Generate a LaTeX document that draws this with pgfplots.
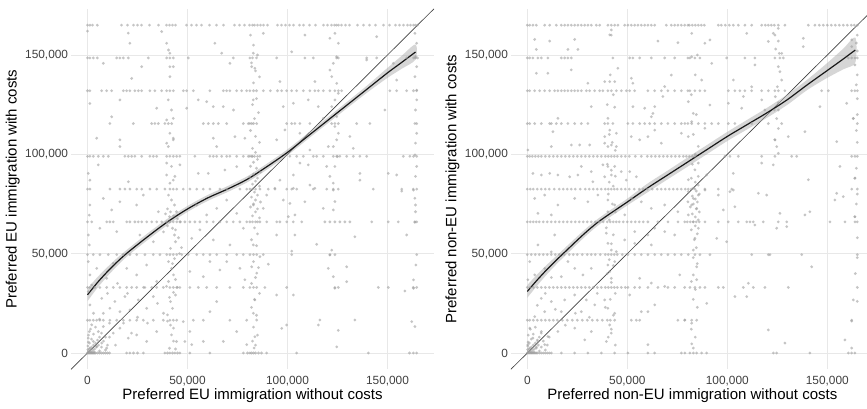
\documentclass[border=0pt]{standalone}
\usepackage{pgfplots}
\pgfplotsset{compat=1.18}
\usepackage{fontspec}
\setmainfont{Liberation Sans}
\pgfplotsset{
 panel/.style={
  scale only axis, width=272.25pt, height=270.45pt,
  xmin=-8.25, xmax=173.25, ymin=-8.25, ymax=173.25,
  axis line style={draw=none},
  major tick length=0pt,
  xtick={0,50,100,150}, ytick={0,50,100,150},
  xticklabels={0,{50,000},{100,000},{150,000}},
  yticklabels={0,{50,000},{100,000},{150,000}},
  grid=major, major grid style={draw=black!9, line width=0.5pt},
  ticklabel style={font=\fontsize{8.9}{10}\selectfont, text=black!75, inner sep=0pt},
  xticklabel shift=4.7pt, yticklabel shift=2pt,
  label style={font=\fontsize{11.25}{13}\selectfont, inner sep=0pt},
  xlabel style={at={(axis description cs:0.5,0)}, anchor=base, yshift=-22.95pt},
  ylabel style={at={(axis description cs:-0.15,0.5)}, anchor=base},
  /pgf/number format/assume math mode=true,
 },
 pts/.style={only marks, mark=*, mark size=1.15pt, color=black!38, mark options={draw opacity=0, line width=0pt, fill=black!38, fill opacity=0.6}},
 band/.style={fill=black!32, fill opacity=0.5, draw=none, smooth},
 fit/.style={black!90, line width=0.9pt, smooth},
 diag/.style={black!75, line width=0.5pt},
}
\begin{document}
\begin{tikzpicture}
\useasboundingbox (0pt,0pt) rectangle (650.25pt,306.75pt);
\clip (0pt,0pt) rectangle (650.25pt,306.75pt);
% ---------------- LEFT PANEL ----------------
\begin{axis}[panel, at={(53.25pt,29.7pt)}, anchor=south west,
  xlabel={Preferred EU immigration without costs},
  ylabel={Preferred EU immigration with costs}]
% rows
\addplot[pts] coordinates {(0,165)(1.2,165)(2.5,165)(4.9,165)(17,165)(20,165)(23,165)(25,165)(27,165)(31,165)(35.5,165)(39.5,165)(41,165)(42.5,165)(44,165)(49.5,165)(52,165)(54.5,165)(57,165)(61,165)(64.5,165)(68,165)(73.5,165)(76,165)(78.5,165)(81,165)(82.5,165)(83.5,165)(85,165)(86.5,165)(88,165)(90,165)(95,165)(97,165)(99,165)(101,165)(103,165)(106,165)(108,165)(111,165)(114,165)(118,165)(120,165)(122,165)(123.5,165)(124.5,165)(125.5,165)(127,165)(129,165)(131,165)(135,165)(138,165)(141,165)(144,165)(148,165)(151,165)(154,165)(156,165)(158,165)(160,165)(161.5,165)(163,165)(164,165)(165,165)};
\addplot[pts] coordinates {(0,148.5)(1.2,148.5)(2.9,148.5)(4.9,148.5)(14.6,148.5)(16.2,148.5)(17.9,148.5)(20.4,148.5)(30.4,148.5)(39.6,148.5)(41.2,148.5)(42.9,148.5)(50.4,148.5)(72.9,148.5)(81.2,148.5)(82.5,148.5)(84.5,148.5)(94.6,148.5)(108.7,148.5)(112.9,148.5)(124.6,148.5)(125.4,148.5)(139.6,148.5)(144.6,148.5)(159.6,148.5)(163,148.5)(164,148.5)(165,148.5)};
\addplot[pts] coordinates {(0,132)(1.2,132)(7.1,132)(9.6,132)(12.1,132)(17.9,132)(19.6,132)(21.2,132)(23.7,132)(25.4,132)(27.1,132)(31.2,132)(33.7,132)(37.1,132)(39.6,132)(41.2,132)(42.9,132)(47.9,132)(49.6,132)(52.9,132)(61.2,132)(67.9,132)(69.6,132)(71.2,132)(74.6,132)(77.1,132)(79.6,132)(81.2,132)(83,132)(84.5,132)(87.9,132)(91.4,132)(95,132)(97.1,132)(99.6,132)(102.1,132)(104.6,132)(107.9,132)(111.2,132)(113.7,132)(115.4,132)(117.9,132)(121.2,132)(123.7,132)(125.4,132)(127.1,132)(151.2,132)(154.6,132)(159.6,132)(163,132)(164.6,132)};
\addplot[pts] coordinates {(11.2,115.5)(22.9,115.5)(32.1,115.5)(33.7,115.5)(35.4,115.5)(38.7,115.5)(40.4,115.5)(42.1,115.5)(57.9,115.5)(60.4,115.5)(62.9,115.5)(65.4,115.5)(69.6,115.5)(77.9,115.5)(80.4,115.5)(81.2,115.5)(82.1,115.5)(83,115.5)(84.6,115.5)(99.6,115.5)(102.1,115.5)(106.2,115.5)(111.2,115.5)(122.1,115.5)(123.7,115.5)(125.4,115.5)(141.2,115.5)(164.6,115.5)};
\addplot[pts] coordinates {(0,99)(1.2,99)(2.9,99)(5.4,99)(7.9,99)(10.4,99)(18.7,99)(20.4,99)(22.1,99)(23.7,99)(27.1,99)(31.2,99)(32.9,99)(34.6,99)(39.6,99)(41.2,99)(42.9,99)(44.6,99)(46.2,99)(53.7,99)(61.2,99)(62.9,99)(64.6,99)(67.1,99)(69.6,99)(71.2,99)(74.6,99)(77.9,99)(80.4,99)(81.2,99)(82.1,99)(82.5,99)(83.5,99)(85,99)(86.2,99)(101.2,99)(104.6,99)(107.9,99)(112.9,99)(114.6,99)(117.9,99)(122.9,99)(124.6,99)(126.2,99)(129.6,99)(132.9,99)(136.2,99)(139.6,99)(157.9,99)(161.2,99)(163,99)(164.6,99)};
\addplot[pts] coordinates {(0,82.5)(1.2,82.5)(11.2,82.5)(16.2,82.5)(18.7,82.5)(21.2,82.5)(24.6,82.5)(27.1,82.5)(31.2,82.5)(34.6,82.5)(38.7,82.5)(41.2,82.5)(42.9,82.5)(44.6,82.5)(47.9,82.5)(51.2,82.5)(54.6,82.5)(57.9,82.5)(61.2,82.5)(66.2,82.5)(69.6,82.5)(76.2,82.5)(79.6,82.5)(81.2,82.5)(82.5,82.5)(84,82.5)(86.2,82.5)(90.4,82.5)(93.7,82.5)(99.6,82.5)(102.1,82.5)(104.6,82.5)(112.9,82.5)(119.6,82.5)(122.9,82.5)(125.4,82.5)(142.9,82.5)(157.1,82.5)(162.9,82.5)(164.6,82.5)};
\addplot[pts] coordinates {(0,66)(2.1,66)(9.6,66)(11.2,66)(12.9,66)(19.6,66)(21.2,66)(23.7,66)(25.4,66)(27.1,66)(29.6,66)(32.1,66)(34.6,66)(37.1,66)(39.6,66)(41.2,66)(42.9,66)(44.6,66)(46.2,66)(48.7,66)(51.2,66)(53.7,66)(56.2,66)(59.6,66)(62.9,66)(66.2,66)(69.6,66)(72.9,66)(76.2,66)(79.6,66)(81.2,66)(82.5,66)(84,66)(85,66)(86.2,66)(89.6,66)(94.6,66)(96.2,66)(99.6,66)(102.9,66)(107.1,66)(118.7,66)(121.2,66)(123.7,66)(126.2,66)(128.7,66)(131.2,66)(142.1,66)(150.4,66)(155.4,66)(163.7,66)(164.6,66)};
\addplot[pts] coordinates {(0,49.5)(2.9,49.5)(6.2,49.5)(10.4,49.5)(14.6,49.5)(17.9,49.5)(21.2,49.5)(24.6,49.5)(28.7,49.5)(32.9,49.5)(36.2,49.5)(39.6,49.5)(41.2,49.5)(42.9,49.5)(44.6,49.5)(47.1,49.5)(50.4,49.5)(54.6,49.5)(57.9,49.5)(61.2,49.5)(64.6,49.5)(69.6,49.5)(74.6,49.5)(77.9,49.5)(81.2,49.5)(83,49.5)(84.6,49.5)(87.9,49.5)(102.1,49.5)(121.2,49.5)(123.7,49.5)(164.6,49.5)};
\addplot[pts] coordinates {(0,33)(1.2,33)(3.7,33)(6.2,33)(9.6,33)(12.9,33)(16.2,33)(19.6,33)(22.1,33)(24.6,33)(28.7,33)(32.1,33)(34.6,33)(37.9,33)(41.2,33)(42.9,33)(44.6,33)(46.2,33)(51.2,33)(55.4,33)(59.6,33)(64.6,33)(71.2,33)(77.9,33)(81.2,33)(83,33)(84.6,33)(88.7,33)(99.6,33)(123.7,33)(125.4,33)(145.4,33)(150.4,33)(162.9,33)(164.6,33)};
\addplot[pts] coordinates {(0,16.5)(1.2,16.5)(2.9,16.5)(4.6,16.5)(6.2,16.5)(7.9,16.5)(11.2,16.5)(14.6,16.5)(17.9,16.5)(21.2,16.5)(24.6,16.5)(27.9,16.5)(32.9,16.5)(37.9,16.5)(41.2,16.5)(42.9,16.5)(44.6,16.5)(52.9,16.5)(57.9,16.5)(71.2,16.5)(79.6,16.5)};
\addplot[pts] coordinates {(0,0)(0.5,0)(1,0)(1.5,0)(2,0)(2.5,0)(3,0)(3.5,0)(4,0)(5,0)(6,0)(7,0)(8,0)(9,0)(10,0)(11,0)(19.6,0)(21.2,0)(23,0)(25,0)(27.9,0)(38.7,0)(40,0)(41.2,0)(42.5,0)(43.7,0)(45,0)(46.2,0)(51.2,0)(61.2,0)(77.9,0)(80,0)(81.2,0)(82,0)(83,0)(84,0)(85.5,0)(87,0)(89.6,0)(104.6,0)(140.4,0)(161,0)(162.9,0)(164.6,0)};
% origin cluster
\addplot[pts] coordinates {(0.5,1)(1,2)(1.5,0.8)(2,3)(2.5,1.5)(3,4)(3.5,2)(4,5)(4.5,3)(5,6.5)(5.5,4)(6,1)(1,5)(2,7)(0.5,9)(3,9.5)(6,8)(7,3)(8,6)(9,1.5)(1.5,12)(4,13)(7,10)(10,4)(11,8)(0.3,0.3)(1.2,0.4)(2.2,0.2)(3.2,0.6)(0.2,1.8)(0.2,3.5)(0.4,5.5)(10,30)(15,35)(20,30)(18,15)(25,18)(30,15)(35,25)(38,20)(28,33)(22,10)(14,4)(6,17)(3,20)(9,8)(11,15)};
% columns
\addplot[pts] coordinates {(40.5,79.5)(42,77)(43.5,74.5)(44.5,71.1)(41,68.6)(42.5,62.8)(43.5,59.4)(44,56)(41.5,52.7)(40.5,46)(42,42.6)(43,39.3)(44,29.2)(41.5,25.9)(42.5,22.5)(40,19.2)(43,12.5)(42,9.1)(44.5,5.8)(41,2.4)(39.6,155.9)(40.5,152.5)(41.2,150.9)(42.9,144.1)(41.2,139.1)(40.4,127.4)(42,122.3)(39.6,117.3)(41.2,110.6)(42.9,107.3)(40.4,103.9)(42,93.9)(43.7,88.9)(41.2,85.5)(39,70)(40,72.5)(41.5,71)(43,69)(45,67.5)(46.5,66)(40,64)(38,61)(44,62)(45.5,58)(47,53)(46,50)(43.5,47.5)(42.5,45)(44,37)(45,33)(43,30.5)(41,28)(40,16)(41.5,14)(43,6)(44,2)(40.5,36)(39.5,33.5)};
\addplot[pts] coordinates {(81.5,160)(83,155)(85,150)(82,146)(84,142)(86,139)(83,136)(84.5,128)(82.5,125)(85.5,121)(83.5,118)(81.5,112)(84,109)(86,106)(82.5,103)(84,101)(85,97.5)(83,96)(81.5,94)(84.5,93)(86.5,91)(83,90)(81,88.5)(85,88)(84,86.5)(82.5,85)(86,84)(83.5,81)(85,79.5)(82,78.5)(84,77)(86.5,76)(83,75)(81.5,73.5)(85,72.5)(84,71)(82.5,69)(86,68)(83.5,63)(85,60)(82,57)(84.5,54)(83,46)(85.5,43)(84,38)(82,35)(86,30)(83.5,27)(82,23)(84.5,19)(83,13)(85,9)(82.5,6)(84,4)};
\addplot[pts] coordinates {(123.7,160.9)(125.4,155.9)(124.6,149.1)(122.9,145.8)(121.2,142.4)(122.1,139.1)(124.6,135.7)(125.4,130.7)(123.7,127.4)(122.1,124)(124.6,119)(123.7,114)(125.4,110.6)(124.6,107.3)(122.9,103.9)(125,98.9)(123.7,93.9)(121.2,88.9)(122.9,85.5)(123.7,76.2)(122.9,72)(122.1,51.8)(121.2,49.3)(120.4,42.6)(122.9,38.4)(129.6,43.4)(129.6,35.9)(123.7,32.6)(116.2,16.6)(115.4,14.1)(125.4,11.4)(124.6,3.1)};
\addplot[pts] coordinates {(163.7,160.9)(164.6,155.9)(164,149.1)(164.6,144.1)(163.7,139.1)(164.6,132.3)(164.6,127.4)(164,122.3)(163.7,115.5)(164.6,110.6)(164,105.6)(163.7,99.7)(164.6,93.9)(164,88.9)(163,82)(163.7,77.9)(164,74.5)(164,71.1)(163.7,65.8)(159.6,59.4)(164.2,44.3)(163,36.8)(163,32.6)(158.7,31.2)(162.1,15.8)(163.7,13.3)};
% scattered
\addplot[pts] coordinates {(0,162)(20.4,161)(37.1,161.8)(21.2,155.9)(63.7,155.9)(67.1,150.9)(7.9,145.8)(27.1,144.1)(41.2,144.1)(71.2,145.8)(22.1,138.2)(82.1,144.1)(1.2,125.6)(16.2,127.4)(55.4,127.4)(59.6,126.5)(34.6,123.2)(49.6,123.2)(62.9,124)(67.9,124)(73,122.3)(12.1,118.9)(42.9,118.1)(4.6,108.1)(16.2,107.3)(16.2,103.9)(39.6,105.6)(42.9,108.1)(62.9,108.1)(73.7,108.9)(78.7,108.1)(64.6,103.9)(5.4,94.7)(39.6,95.6)(46.2,94.7)(55.4,90.4)(60.4,90.4)(68.7,92.1)(74.6,93.8)(0.4,90.4)(1.2,87)(20.4,86.2)(39.6,89.6)(42.9,87)};
\addplot[pts] coordinates {(87.9,160.9)(108.7,160)(82.9,150.9)(102.1,151.6)(121.2,158.4)(144.6,159.2)(139.6,147.5)(152.9,145.8)(83.7,143.3)(154.6,137.4)(113.7,136.6)(96.2,136.6)(82.9,127.4)(97.9,124)(110.4,127.4)(115.4,124)(102.9,125.7)(148.7,122.3)(117.9,118.1)(103.7,115.5)(134.6,115.5)(98.7,112.3)(106.2,110.6)(94.6,107.3)(131.2,109)(120.4,103.9)(111.2,102.2)(132.9,103)(106.2,95.6)(110.4,94.7)(119.6,93.9)(136.2,90.4)(150.4,90.4)(154.6,89.6)(102.9,89.6)(96.2,87)(111.2,84.5)(136.2,87)};
\addplot[pts] coordinates {(7.9,77.8)(16.2,76.1)(27.9,79.5)(12.1,72)(24.6,74.5)(35.4,71.1)(6.2,62.8)(14.6,61.1)(26.2,59.4)(32.9,56)(54.6,74.5)(59.6,69.5)(64.6,72.8)(69.6,77)(74.6,70.3)(77.9,62.8)(56.2,62)(52.1,57.7)(62.9,56.9)(71.2,54.4)(61.2,46)(69.6,46)(76.2,42.6)(78.7,36.9)(57.9,38.4)(66.2,41.8)(51.2,41)(4.6,42.6)(12.9,45.1)(19.6,42.6)(24.6,39.3)(29.6,44.3)(34.6,36)(9.6,37.6)(2.1,34.2)(7.1,27.5)(13.7,25.9)(18.7,28.4)(25.4,26.7)(29.6,22.5)(32.9,28.4)(11.2,22.5)(7.9,20)(16.2,20.8)(21.2,21.7)(2.1,14.2)(5.4,10.8)(7.9,13.3)(12.9,10)(16.2,12.5)(20.4,7.5)(24.6,9.1)(29.6,5.8)(34.6,10.8)(2.9,5.8)(4.6,3.3)(7.1,5)(9.6,2.5)(1.2,2.5)(0.4,7.5)(0.9,10.8)(1.2,24.2)(0.4,30.9)(1.2,39.3)(0.4,46)(0.9,54.4)(0.4,59.4)(0.9,69.4)(1.2,74.5)(47.9,15.8)(51.2,10.8)(48.7,5.8)(52.1,4.2)(57.9,5.8)(61.2,20.8)(64.6,25.9)(67.9,5.8)(74.6,10.8)(79.6,4.2)};
\addplot[pts] coordinates {(93.7,82.9)(102.9,82.9)(113.7,82.9)(122.9,82)(157.1,81.5)(97.9,77)(101.2,75.3)(108.7,76.1)(117.9,72.8)(82.9,74.5)(87.9,72.8)(89.6,79.5)(100.4,68.6)(103.7,69.5)(94.6,59.4)(103.7,59.4)(114.6,54.7)(133.7,58.5)(102.1,51.3)(90.4,44.7)(82.9,54.4)(86.2,48.5)(84.6,40.2)(82.1,43.4)(102.9,29.2)(94.6,29.2)(83.7,26.7)(82.9,20)(84.6,16.6)(97.1,12.4)(99.6,14.1)(83.7,8.2)(83.3,2.5)(133.7,16.6)};
% diagonal, band, fit
\addplot[diag] coordinates {(-8.25,-8.25)(173.25,173.25)};
\addplot[band] coordinates {(0,32.5)(5,38.2)(10,43.3)(15,48)(20,52.2)(30,60.2)(40,67.6)(50,74)(60,79.5)(70,84)(80,89)(90,95.5)(100,102.5)(110,110.5)(120,118.5)(130,126.6)(140,134.8)(150,143.5)(157,149.5)(164,155.3)(164,147.7)(157,143)(150,138.5)(140,131.2)(130,123.4)(120,115.5)(110,107.5)(100,99.5)(90,92.5)(80,86)(70,81)(60,76.5)(50,71)(40,64.4)(30,56.8)(20,48.8)(15,44)(10,38.7)(5,32.8)(0,26.1)} -- cycle;
\addplot[fit] coordinates {(0,29.3)(5,35.5)(10,41)(15,46)(20,50.5)(30,58.5)(40,66)(50,72.5)(60,78)(70,82.5)(80,87.5)(90,94)(100,101)(110,109)(120,117)(130,125)(140,133)(150,141)(157,146.2)(164,151.5)};
\end{axis}
% ---------------- RIGHT PANEL ----------------
\begin{axis}[panel, at={(383.1pt,29.7pt)}, anchor=south west,
  xlabel={Preferred non-EU immigration without costs},
  ylabel={Preferred non-EU immigration with costs}]
\addplot[pts] coordinates {(0,165)(1.2,165)(2.8,165)(4.5,165)(8.7,165)(11.2,165)(14.5,165)(17,165)(18.7,165)(20.3,165)(22,165)(23.7,165)(25.3,165)(27,165)(28.7,165)(30.3,165)(32,165)(34.5,165)(36.2,165)(40.3,165)(42,165)(43.7,165)(45.3,165)(48.7,165)(50.3,165)(52,165)(53.7,165)(55.3,165)(57,165)(58.7,165)(60.3,165)(62,165)(63.7,165)(69.5,165)(72,165)(73.7,165)(75.3,165)(77,165)(78.7,165)(80.3,165)(81,165)(82.5,165)(84,165)(85.5,165)(87,165)(88.5,165)(95.5,165)(97,165)(99,165)(101,165)(103,165)(105.5,165)(108.8,165)(112.2,165)(117.2,165)(119,165)(120.5,165)(122,165)(123.5,165)(125.5,165)(128.8,165)(140.5,165)(143.8,165)(146,165)(148,165)(150,165)(152,165)(154,165)(156,165)(158,165)(160,165)(162,165)(163.5,165)(165,165)};
\addplot[pts] coordinates {(0,148.5)(1.2,148.5)(2.8,148.5)(5.3,148.5)(7,148.5)(10.3,148.5)(17,148.5)(18.7,148.5)(20.3,148.5)(22,148.5)(42.8,148.5)(51.2,148.5)(52.8,148.5)(56.2,148.5)(62,148.5)(68.7,148.5)(73.7,148.5)(80.3,148.5)(81.3,148.5)(83.8,148.5)(86.3,148.5)(99.7,148.5)(108.8,148.5)(113.8,148.5)(123.8,148.5)(126.3,148.5)(128,148.5)(160.5,148.5)(162.2,148.5)(163.8,148.5)(165,148.5)};
\addplot[pts] coordinates {(0,132)(1.2,132)(3.7,132)(6.2,132)(8.7,132)(11.2,132)(13.7,132)(15.3,132)(17,132)(18.7,132)(20.3,132)(22,132)(23.7,132)(25.3,132)(27,132)(29.5,132)(31.2,132)(33.7,132)(36.2,132)(37.8,132)(40.3,132)(42,132)(44.5,132)(47,132)(49.5,132)(51.2,132)(53.7,132)(60.3,132)(63.7,132)(67,132)(70.3,132)(73.7,132)(77,132)(80.3,132)(81.3,132)(83.8,132)(86.3,132)(88.8,132)(100.5,132)(103.8,132)(106.3,132)(108.8,132)(112.2,132)(117.2,132)(120.5,132)(123.8,132)(125.5,132)(128.8,132)(147.2,132)(150.5,132)(162.2,132)(163.8,132)(165,132)};
\addplot[pts] coordinates {(0,115.5)(1.2,115.5)(3.7,115.5)(7,115.5)(11.2,115.5)(12,115.5)(14.5,115.5)(17,115.5)(20.3,115.5)(23.7,115.5)(27,115.5)(30.3,115.5)(38.7,115.5)(40.3,115.5)(42.8,115.5)(50.3,115.5)(52.8,115.5)(56.2,115.5)(58.7,115.5)(61.2,115.5)(63.7,115.5)(67,115.5)(70.3,115.5)(73.7,115.5)(77,115.5)(78.8,115.5)(80.3,115.5)(82.2,115.5)(85.5,115.5)(88.8,115.5)(92.2,115.5)(95.5,115.5)(100.5,115.5)(103.8,115.5)(112.2,115.5)(120.5,115.5)(127.2,115.5)(165,115.5)};
\addplot[pts] coordinates {(0,99)(1.2,99)(2.5,99)(4,99)(5.5,99)(7,99)(9,99)(11,99)(13,99)(15,99)(17,99)(19,99)(21,99)(23,99)(25,99)(27,99)(29,99)(31,99)(33,99)(35,99)(37,99)(39,99)(40.5,99)(42,99)(43.5,99)(45,99)(47,99)(49,99)(51,99)(54,99)(57,99)(60,99)(62,99)(64,99)(66,99)(68,99)(70,99)(72,99)(74,99)(76,99)(78,99)(79.5,99)(81,99)(82.5,99)(83.8,99)(98.8,99)(101.3,99)(105.5,99)(117.2,99)(123.8,99)(132.2,99)(134.7,99)(162.2,99)(163.8,99)(165,99)};
\addplot[pts] coordinates {(0,82.5)(1.5,82.5)(3,82.5)(5,82.5)(7,82.5)(9,82.5)(11,82.5)(13.5,82.5)(16,82.5)(18,82.5)(20,82.5)(22,82.5)(24,82.5)(26.5,82.5)(29,82.5)(31,82.5)(33,82.5)(35,82.5)(37,82.5)(39,82.5)(40.5,82.5)(42,82.5)(43.5,82.5)(45,82.5)(47,82.5)(49,82.5)(51,82.5)(53.5,82.5)(56,82.5)(58,82.5)(60,82.5)(62.5,82.5)(65,82.5)(67,82.5)(69,82.5)(71,82.5)(73,82.5)(75,82.5)(77,82.5)(79,82.5)(80.5,82.5)(82,82.5)(83.8,82.5)(88.8,82.5)(95.5,82.5)(102.2,82.5)(162.2,82.5)(165,82.5)};
\addplot[pts] coordinates {(0,66)(1.5,66)(3,66)(4.5,66)(6,66)(8,66)(10,66)(12,66)(14,66)(16,66)(18,66)(20,66)(22,66)(24,66)(26,66)(28,66)(30,66)(32,66)(34,66)(36,66)(38,66)(40,66)(41.5,66)(43,66)(44.5,66)(46,66)(48,66)(50,66)(52,66)(54,66)(56,66)(58,66)(60.3,66)(65.3,66)(70.3,66)(75.3,66)(78.7,66)(80,66)(81.5,66)(83,66)(84.5,66)(86,66)(88.8,66)(95.5,66)(100.5,66)(105.5,66)(109.7,66)(111.3,66)(113,66)(118,66)(125.5,66)(129.7,66)(151.3,66)(158.8,66)(163.8,66)(165,66)};
\addplot[pts] coordinates {(0,49.5)(2,49.5)(4,49.5)(6,49.5)(8,49.5)(10,49.5)(12,49.5)(14,49.5)(16,49.5)(18.5,49.5)(21,49.5)(23,49.5)(25,49.5)(27.5,49.5)(30,49.5)(32,49.5)(34,49.5)(36.5,49.5)(39,49.5)(40.5,49.5)(42,49.5)(43.5,49.5)(45,49.5)(47.5,49.5)(50.3,49.5)(53.7,49.5)(57,49.5)(60.3,49.5)(63.7,49.5)(67,49.5)(70.3,49.5)(73.7,49.5)(77,49.5)(80.5,49.5)(83.8,49.5)(86.3,49.5)(91.3,49.5)(112.2,49.5)(120.5,49.5)(121.3,49.5)(137.2,49.5)(165,49.5)};
\addplot[pts] coordinates {(0,33)(1.5,33)(3,33)(5,33)(7,33)(9,33)(11,33)(13,33)(15,33)(17,33)(19,33)(21,33)(23,33)(25,33)(27,33)(29,33)(31,33)(33,33)(35,33)(37,33)(39,33)(40.5,33)(42,33)(43.5,33)(45,33)(47,33)(49,33)(50.3,33)(53.7,33)(56.2,33)(60.3,33)(65.3,33)(70.3,33)(73.7,33)(78.7,33)(81.3,33)(83.8,33)(86.3,33)(88.8,33)(95.5,33)(98,33)(108,33)(113,33)(118.8,33)(130.5,33)(165,33)};
\addplot[pts] coordinates {(0,16.5)(1.2,16.5)(3,16.5)(5,16.5)(7,16.5)(9,16.5)(11,16.5)(13,16.5)(15,16.5)(17.5,16.5)(20,16.5)(22.5,16.5)(25,16.5)(27.5,16.5)(30,16.5)(32.5,16.5)(35,16.5)(37.5,16.5)(40,16.5)(41.5,16.5)(43.7,16.5)(52,16.5)(54.5,16.5)(56.2,16.5)(75.3,16.5)(78.7,16.5)(82.2,16.5)(84.7,16.5)(162.2,16.5)};
\addplot[pts] coordinates {(0,0)(0.5,0)(1,0)(1.5,0)(2,0)(2.5,0)(3,0)(3.5,0)(4,0)(4.5,0)(5,0)(6,0)(7,0)(8,0)(9,0)(10,0)(11,0)(12,0)(17,0)(23.7,0)(30.3,0)(37,0)(43.7,0)(50.3,0)(60.3,0)(63.7,0)(77,0)(78.8,0)(81.3,0)(83,0)(84.7,0)(87.2,0)(89.7,0)(123,0)(124.7,0)(141.3,0)(160.5,0)(162.2,0)(163.8,0)};
\addplot[pts] coordinates {(0.5,1)(1,2)(1.5,0.8)(2,3)(2.5,1.5)(3,4)(3.5,2)(4,5)(4.5,3)(5,6.5)(5.5,4)(6,1)(1,5)(2,7)(0.5,9)(3,9.5)(6,8)(7,3)(8,6)(9,1.5)(1.5,12)(4,13)(7,10)(10,4)(11,8)(0.3,0.3)(1.2,0.4)(2.2,0.2)(3.2,0.6)(0.2,1.8)(0.2,3.5)(0.4,5.5)(5,24)(9,30)(14,22)(19,14)(24,20)(31,18)(35,30)(12,38)};
% columns
\addplot[pts] coordinates {(40,95)(42,92)(44,89)(41,86)(43,84)(40.5,80)(42.5,75)(44,71)(41,67)(39.5,63)(43,59.5)(42,55)(44.5,51)(41,47)(43,44)(40,40)(42,35.5)(44,30)(41.5,27)(39,23)(43,19)(42,12)(40.5,8)(44,4)(41,110)(42.5,106)(44,102)(40,125)(43,130)(41.5,140)(42,160)};
\addplot[pts] coordinates {(82,88)(84,86)(85.5,84.5)(83,83)(84.5,81.5)(86,80)(82.5,79)(84,77.5)(85,76)(83,75)(81.5,73.5)(84.5,72.5)(86,71)(82.5,70)(84,68.5)(85.5,67)(83,66)(84,64)(82,62)(85,60)(83.5,57)(84.5,53)(83,48)(85,45)(82,36)(84,32)(83,27)(85,23)(82,12)(84,8)(82.5,95)(84,100)(85.5,104)(83,110)(84.5,120)(82,130)(84,140)(85,150)};
\addplot[pts] coordinates {(123.8,160)(125.5,157)(124.2,153)(126,150.8)(125.5,144.1)(126.3,141.6)(127.2,137.4)(125,134)(124,129)(125.5,126)(123.5,122.3)(124.7,118)(125.5,113)(123.8,107.3)(124.7,103.9)(125.5,100.5)(123,94.7)};
\addplot[pts] coordinates {(165,160)(164.5,156)(165,152)(163.8,145)(165,140)(164.5,135)(165,128)(165,120)(163,118)(164.5,112)(165,106)(164.5,93)(163.8,88)(165,80)(164.5,75)(163.8,68.6)(165,58)(165,48)(164,40)(165,26)(163,26.7)(162.2,16.1)(158.8,6.6)(162.2,2.5)};
% scattered
\addplot[pts] coordinates {(3.7,157.8)(11.2,157)(23.7,157.8)(25.3,152.8)(20.3,152.8)(4.5,152.8)(41.2,160.1)(42,162.6)(65.3,157)(75.3,156.2)(4.5,140.8)(10.3,140.8)(22,142.5)(45.3,143.3)(72,139.9)(52,138.3)(30.3,135.8)(38.7,136.6)(41.2,136.6)(43.7,136.6)(52.8,135.8)(68.7,134.1)(67.8,129.1)(32,124)(43.7,123.7)(52.8,124)(58.7,123.2)(63.7,124)(62.8,120.6)(62,118.9)(15.3,118.1)(40.3,118.1)(41.2,112.2)(44.5,110.6)(12.8,111.4)(63.7,112.2)(52,108.9)(56.2,107.3)(60.3,108.9)(67,105.6)(77,110.6)(38.7,108.9)(38.7,105.6)(40.3,103.9)(42,104.7)(44.5,103.9)(22,104.7)(26.2,104.7)(31.2,104.7)(12,103.9)(0.3,102.2)(2.8,90.4)(7,89.6)(11.2,90.4)(15.3,89.6)(21.2,88.7)(25.3,89.6)(27,93.9)(32,91.3)(37.8,94.7)(40.3,93.9)(38.7,88.7)(42,89.6)(43.7,93.9)(47,91.3)(49.5,87)(51.2,91.3)(54.5,88.7)(32.8,86.2)};
\addplot[pts] coordinates {(82.2,160.9)(88.8,155.9)(91.3,157.6)(109.7,160.9)(123,160.9)(125.5,163.4)(120.5,156.8)(138,158.4)(138,154.2)(162.2,157.6)(162.2,154.2)(82.2,149.1)(92.2,145.8)(113.8,145)(127.2,150.8)(87.2,137.4)(103,137.4)(112.2,134)(108,129.1)(80.5,126.5)(91.3,124.8)(100.5,125.7)(107.2,123.2)(117.2,127.4)(118.8,122.3)(125.5,122.3)(146.3,124)(159.7,125.7)(83,120.6)(82.2,116.4)(88.8,113.1)(80.5,108.9)(130.5,108.9)(138.8,111.4)(154.7,106.4)(163,118.1)(123.8,107.3)(85.5,95.6)(83.8,92.2)(85.5,88.9)(80.5,87.2)(89.7,89.6)(103,90.4)(117.2,95.6)(156.3,93.9)(163.8,88)(140.5,87.2)};
\addplot[pts] coordinates {(3.7,77.8)(8.7,79.5)(15.3,74.5)(23.7,77.8)(30.3,76.1)(35.3,79.5)(40.3,77)(43.7,74.5)(52,77.8)(57,76.1)(62,72.8)(68.7,74.5)(75.3,71.1)(80.3,76.1)(5.3,70.3)(12,69.5)(40.3,71.1)(48.7,69.5)(63.7,62.8)(68.7,61.1)(73.7,59.4)(60.3,59.4)(53.7,61.1)(48.7,56.9)(53.7,55.2)(62,54.4)(39.5,60.3)(40.3,55.2)(42,51.8)(20.3,46)(23.7,42.6)(27.8,39.3)(17,38.4)(32,42.6)(40.3,44.3)(43.7,46)(41.2,41)(42,37.6)(8.7,42.6)(3.7,39.3)(12,50.9)(5.3,54.4)(13.7,59.4)(1.2,46)(0.3,36.9)(7,27.5)(12,25.9)(18.7,26.7)(23.7,29.2)(29.5,26.7)(33.7,24.2)(38.7,26.7)(40.3,22.5)(43.7,20)(41.2,14.1)(42,10)(39.5,5.8)(27,20.8)(17,20.8)(8.7,20.8)(3.7,18.3)(23.7,12.5)(15.3,10.8)(7,10.8)(1.2,12.5)(2.8,7.5)(5.3,5.8)(8.7,4.2)(0.3,4.2)(1.2,2.5)(4.5,2.5)(10.3,8.3)(28.7,6.6)(32,10.8)(57,20.8)(60.3,20.8)(62,35.2)(68.7,33.5)(76.2,39.3)(56.2,37.6)(60.3,4.2)(63.7,24.2)(51.2,29.2)};
\addplot[pts] coordinates {(80.5,81.2)(83,77.8)(85.5,79.5)(88.8,82)(95.5,79.5)(101.3,81.2)(103,82)(115.5,80.4)(119.7,79.5)(103.8,73.6)(98,72)(82.2,74.5)(84.7,72.8)(80.5,69.5)(85.5,62.8)(83.8,57.7)(83,51.8)(94.7,57.7)(99.7,56)(113.8,64.4)(124.7,62.8)(126.3,70.3)(129.7,63.6)(138.8,69.5)(141.3,71.1)(153.8,77)(158,78.7)(154.7,80.4)(163.8,68.6)(142.2,43.4)(83,39.3)(84.7,36.9)(84.7,43.4)(103.8,28.4)(110.5,35.1)(109.7,28.4)(89.7,25)(78.8,16.6)(82.2,15)(120.5,11.6)(128.8,5)(82.2,4.6)(83,2.5)};
% diagonal, band, fit
\addplot[diag] coordinates {(-8.25,-8.25)(173.25,173.25)};
\addplot[band] coordinates {(0,34.2)(5,39.6)(10,44.6)(15,49.3)(20,54)(25,58.7)(30,63.2)(35,67.3)(40,70.9)(45,74.3)(50,77.7)(60,85.2)(70,91.7)(80,98.3)(90,104.8)(100,111.3)(110,117.4)(120,123.5)(130,130.1)(140,137.6)(150,146)(158,153.2)(164,158.8)(164,146.2)(158,142.8)(150,138.5)(140,132.4)(130,124.9)(120,118.5)(110,112.6)(100,106.7)(90,100.2)(80,93.7)(70,87.3)(60,80.8)(50,74.3)(45,70.9)(40,67.5)(35,63.9)(30,59.6)(25,54.9)(20,50)(15,45.1)(10,39.8)(5,34)(0,27.8)} -- cycle;
\addplot[fit] coordinates {(0,31)(5,36.8)(10,42.2)(15,47.2)(20,52)(25,56.8)(30,61.4)(35,65.6)(40,69.2)(45,72.6)(50,76)(60,83)(70,89.5)(80,96)(90,102.5)(100,109)(110,115)(120,121)(130,127.5)(140,135)(150,142.2)(158,148)(164,152.5)};
\end{axis}
\end{tikzpicture}
\end{document}
